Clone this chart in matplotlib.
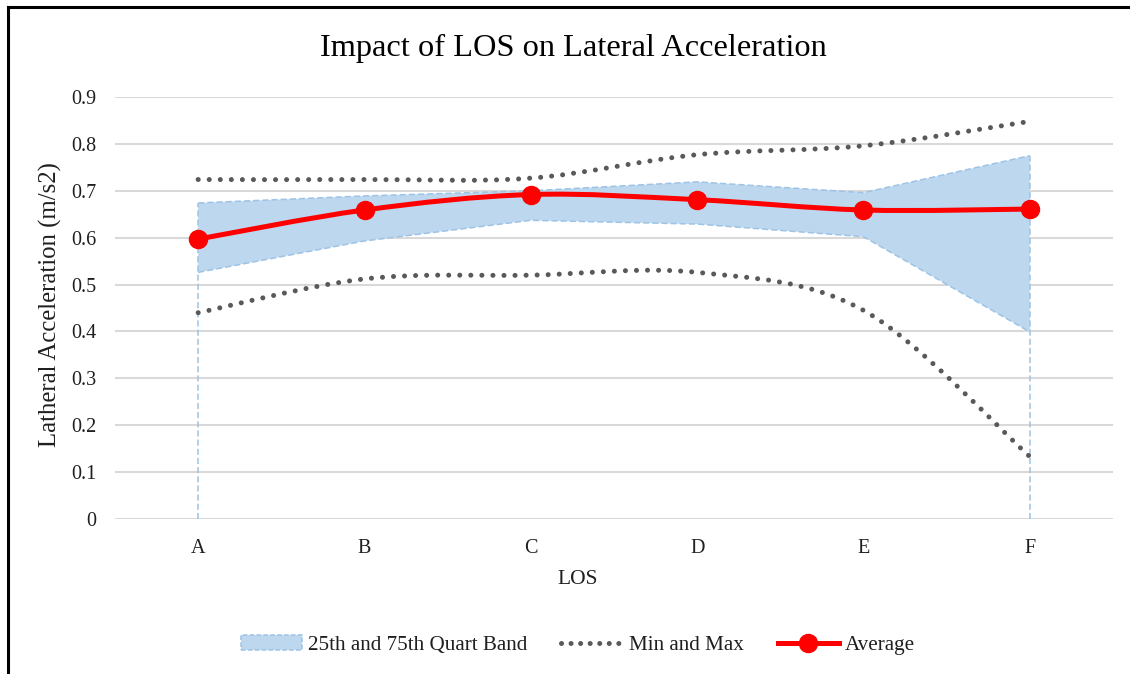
import numpy as np
import matplotlib
matplotlib.use("Agg")
import matplotlib.pyplot as plt
from matplotlib.path import Path
from matplotlib.patches import PathPatch, Patch
from matplotlib.lines import Line2D

categories = ["A", "B", "C", "D", "E", "F"]
q25 = [0.526, 0.593, 0.637, 0.629, 0.602, 0.399]
q75 = [0.674, 0.689, 0.700, 0.719, 0.696, 0.775]
min_vals = [0.440, 0.512, 0.520, 0.526, 0.445, 0.133]
max_vals = [0.724, 0.724, 0.727, 0.777, 0.796, 0.848]
avg_vals = [0.597, 0.659, 0.692, 0.681, 0.659, 0.661]
yticks = [0, 0.1, 0.2, 0.3, 0.4, 0.5, 0.6, 0.7, 0.8, 0.9]
ytick_labels = ["0", "0.1", "0.2", "0.3", "0.4", "0.5", "0.6", "0.7", "0.8", "0.9"]

plt.rcParams['font.family'] = ['Liberation Serif', 'DejaVu Serif']

W, H = 1134, 674
fig = plt.figure(figsize=(W / 100, H / 100), dpi=100)
ax = fig.add_axes([115 / W, 1 - 519 / H, 998 / W, 422 / H])

x = np.arange(len(categories))


def smooth_path(xs, ys):
    # Excel-like smoothed line: cubic Bezier segments with Catmull-Rom tangents
    pts = np.column_stack([xs, ys]).astype(float)
    n = len(pts)
    verts = [pts[0]]
    codes = [Path.MOVETO]
    for i in range(n - 1):
        p0 = pts[i - 1] if i > 0 else pts[i]
        p1 = pts[i]
        p2 = pts[i + 1]
        p3 = pts[i + 2] if i + 2 < n else pts[i + 1]
        c1 = p1 + (p2 - p0) / 6.0
        c2 = p2 - (p3 - p1) / 6.0
        verts += [c1, c2, p2]
        codes += [Path.CURVE4] * 3
    return Path(verts, codes)


band_face = "#BDD7EE"
band_edge = "#9DC3E6"
grey = "#595959"
red = "#FF0000"
txt = "#1F1F1F"
dots = (0, (0.01, 2.2))

# grid
for yt in yticks:
    ax.axhline(yt, color="#D9D9D9", lw=1.5, zorder=0)

# band
ax.fill_between(x, q25, q75, facecolor=band_face, edgecolor="none", zorder=1)
ax.plot(x, q25, color=band_edge, lw=1.1, ls=(0, (4, 2)), zorder=2)
ax.plot(x, q75, color=band_edge, lw=1.1, ls=(0, (4, 2)), zorder=2)
ax.vlines([x[0], x[-1]], 0, [q75[0], q75[-1]], color=band_edge, lw=1.1,
          linestyles=[(0, (4, 2))], zorder=2)

# min and max dotted smoothed
for vals in (min_vals, max_vals):
    p = PathPatch(smooth_path(x, vals), fill=False, edgecolor=grey, lw=3.6,
                  linestyle=dots, capstyle="round", zorder=3)
    ax.add_patch(p)

# average
ax.add_patch(PathPatch(smooth_path(x, avg_vals), fill=False, edgecolor=red,
                       lw=3.6, capstyle="round", joinstyle="round", zorder=4))
ax.plot(x, avg_vals, ls="none", marker="o", ms=13, color=red, zorder=5)

ax.set_xlim(-0.5, len(categories) - 0.5)
ax.set_ylim(0, 0.9)
ax.set_xticks(x)
ax.set_xticklabels(categories, fontsize=14.5, color=txt)
ax.set_yticks(yticks)
ax.set_yticklabels(ytick_labels, fontsize=14.5, color=txt)
ax.tick_params(axis="x", length=0, pad=14.5)
ax.tick_params(axis="y", length=0, pad=13.5)
for s in ax.spines.values():
    s.set_visible(False)

fig.text(573 / W, 1 - 48 / H, "Impact of LOS on Lateral Acceleration",
         ha="center", va="center", fontsize=23.3, color="#000000")
fig.text(578 / W, 1 - 579 / H, "LOS", ha="center", va="center", fontsize=15.5,
         color=txt)
fig.text(50 / W, 1 - 305 / H, "Latheral Acceleration (m/s2)", ha="center",
         va="center", rotation=90, fontsize=17.8, color=txt)

handles = [
    Patch(facecolor=band_face, edgecolor=band_edge, linestyle=(0, (3, 1.5)), lw=1.1),
    Line2D([], [], color=grey, lw=3.6, ls=(0, (0.01, 1.9)), dash_capstyle="round"),
    Line2D([], [], color=red, lw=3.6, marker="o", ms=13),
]
labels = ["25th and 75th Quart Band", "Min and Max", "Average"]
fig.legend(handles, labels, loc="center", bbox_to_anchor=(578 / W, 1 - 645 / H),
           ncol=3, frameon=False, fontsize=15.2, handlelength=2.9,
           handletextpad=0.3, columnspacing=1.6, labelcolor=txt)

# outer chart border (left and top only visible)
fig.add_artist(Line2D([8 / W, 8 / W], [0, 1 - 7 / H], color="black", lw=2.2,
                      transform=fig.transFigure))
fig.add_artist(Line2D([8 / W, 1128 / W], [1 - 7 / H, 1 - 7 / H], color="black",
                      lw=2.2, transform=fig.transFigure))

fig.savefig("out.png", dpi=100, facecolor="white")
